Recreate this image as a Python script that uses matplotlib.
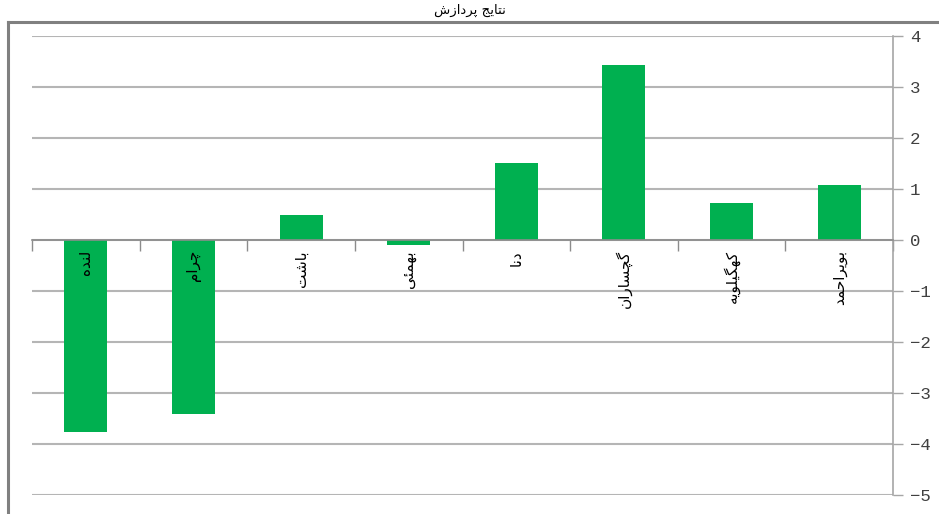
import matplotlib
matplotlib.use("Agg")
import matplotlib.pyplot as plt
from matplotlib.lines import Line2D

categories = ["لنده", "چرام", "باشت", "بهمئی", "دنا", "گچساران", "کهگیلویه", "بویراحمد"]
values = [-3.76, -3.42, 0.49, -0.10, 1.51, 3.44, 0.72, 1.08]
yticks = [-5, -4, -3, -2, -1, 0, 1, 2, 3, 4]
title_text = "نتایج پردازش"

# minimal Persian shaping (isolated, final, initial, medial)
FORMS = {
    "ا": ("\uFE8D", "\uFE8E", None, None),
    "ب": ("\uFE8F", "\uFE90", "\uFE91", "\uFE92"),
    "ت": ("\uFE95", "\uFE96", "\uFE97", "\uFE98"),
    "ج": ("\uFE9D", "\uFE9E", "\uFE9F", "\uFEA0"),
    "ح": ("\uFEA1", "\uFEA2", "\uFEA3", "\uFEA4"),
    "د": ("\uFEA9", "\uFEAA", None, None),
    "ر": ("\uFEAD", "\uFEAE", None, None),
    "ز": ("\uFEAF", "\uFEB0", None, None),
    "س": ("\uFEB1", "\uFEB2", "\uFEB3", "\uFEB4"),
    "ش": ("\uFEB5", "\uFEB6", "\uFEB7", "\uFEB8"),
    "ل": ("\uFEDD", "\uFEDE", "\uFEDF", "\uFEE0"),
    "م": ("\uFEE1", "\uFEE2", "\uFEE3", "\uFEE4"),
    "ن": ("\uFEE5", "\uFEE6", "\uFEE7", "\uFEE8"),
    "ه": ("\uFEE9", "\uFEEA", "\uFEEB", "\uFEEC"),
    "و": ("\uFEED", "\uFEEE", None, None),
    "ئ": ("\uFE89", "\uFE8A", "\uFE8B", "\uFE8C"),
    "پ": ("\uFB56", "\uFB57", "\uFB58", "\uFB59"),
    "چ": ("\uFB7A", "\uFB7B", "\uFB7C", "\uFB7D"),
    "ک": ("\uFB8E", "\uFB8F", "\uFB90", "\uFB91"),
    "گ": ("\uFB92", "\uFB93", "\uFB94", "\uFB95"),
    "ی": ("\uFBFC", "\uFBFD", "\uFBFE", "\uFBFF"),
}


def dual(c):
    return c in FORMS and FORMS[c][2] is not None


def shape_word(w):
    out = []
    for i, c in enumerate(w):
        if c not in FORMS:
            out.append(c)
            continue
        prev_joins = i > 0 and dual(w[i - 1])
        next_joins = i < len(w) - 1 and w[i + 1] in FORMS and dual(c)
        iso, fin, ini, med = FORMS[c]
        if prev_joins and next_joins:
            out.append(med)
        elif prev_joins:
            out.append(fin)
        elif next_joins:
            out.append(ini)
        else:
            out.append(iso)
    return "".join(out)


def shape(text):
    words = text.split(" ")
    return " ".join(shape_word(w)[::-1] for w in words[::-1])


GREEN = "#00B050"
GRID = "#B5B5B5"
AX = "#8C8C8C"

fig = plt.figure(figsize=(9.39, 5.14), dpi=100)
ax = fig.add_axes([32 / 939, 1 - 495 / 514, (893 - 32) / 939, (495 - 36) / 514])

x = list(range(len(categories)))
ax.bar(x, values, width=0.4, color=GREEN, zorder=3)

ax.set_xlim(-0.5, len(categories) - 0.5)
ax.set_ylim(-5, 4)
ax.set_yticks(yticks)
ax.set_yticklabels([str(v).replace("-", "\u2212") for v in yticks],
                   fontfamily="Liberation Mono", fontsize=12.5, color="#404040")
ax.yaxis.tick_right()
ax.tick_params(axis="y", length=7, width=1, color="#A6A6A6", pad=5)
ax.grid(axis="y", color=GRID, linewidth=1.5, zorder=0)

for s in ["top", "left"]:
    ax.spines[s].set_visible(False)
ax.spines["right"].set_color("#A6A6A6")
ax.spines["right"].set_linewidth(1.2)
ax.spines["bottom"].set_position(("data", 0))
ax.spines["bottom"].set_color(AX)
ax.spines["bottom"].set_linewidth(1.2)
ax.spines["bottom"].set_zorder(4)

ax.set_xticks([i - 0.5 for i in range(len(categories) + 1)])
ax.set_xticklabels([])
ax.tick_params(axis="x", direction="out", length=8, width=1, color=AX)

for i, c in enumerate(categories):
    ax.text(i, -0.2, shape(c), rotation=90, ha="center", va="top",
            fontfamily="DejaVu Sans", fontsize=11, color="black", zorder=5)

# outer chart frame
fig.add_artist(Line2D([8 / 939, 1.0], [1 - 22 / 514, 1 - 22 / 514],
                      color="#808080", linewidth=2.2, transform=fig.transFigure))
fig.add_artist(Line2D([8 / 939, 8 / 939], [0, 1 - 22 / 514],
                      color="#808080", linewidth=2.2, transform=fig.transFigure))

fig.text(470 / 939, 1 - 10 / 514, shape(title_text), ha="center", va="center",
         fontfamily="DejaVu Sans", fontsize=9.5, color="black")

fig.savefig("out.png", dpi=100)
